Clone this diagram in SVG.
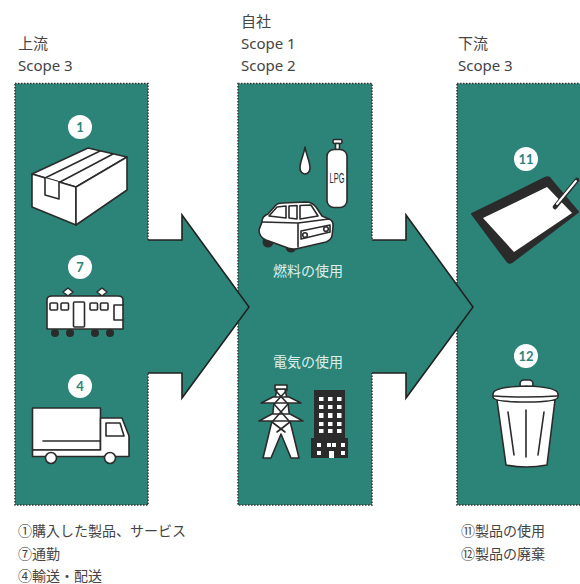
<svg xmlns="http://www.w3.org/2000/svg" width="580" height="584" viewBox="0 0 580 584">
  <style>
    .lbl { font-family: "Noto Sans", "Noto Sans CJK JP", sans-serif; font-size: 15px; fill: #444; }
    .note { font-family: "Noto Sans CJK JP", "Noto Sans", sans-serif; font-size: 14px; fill: #444; }
    .inner { font-family: "Noto Sans CJK JP", sans-serif; font-size: 14px; fill: #dcefec; text-anchor: middle; }
    .panel { fill: #2c8479; stroke: #333; stroke-width: 1.5; stroke-dasharray: 1.5 1.5; }
    .arrowfill { fill: #2c8479; }
    .arrowline { fill: none; stroke: #222; stroke-width: 1.6; stroke-linejoin: miter; }
    .badge { fill: #fff; }
    .badgetxt { font-family: "Lato", "Noto Sans", sans-serif; font-weight: bold; font-size: 13px; fill: #2c8479; text-anchor: middle; }
    .ico { fill: #fff; stroke: #2b2b2b; stroke-width: 1.6; stroke-linejoin: round; stroke-linecap: round; }
    .icoline { fill: none; stroke: #2b2b2b; stroke-width: 1.6; stroke-linecap: round; stroke-linejoin: round; }
    .dark { fill: #2b2b2b; }
  </style>

  <!-- headings -->
  <g id="heading-upstream">
    <text class="lbl" x="18" y="49">上流</text>
    <text class="lbl" x="18" y="71">Scope 3</text>
  </g>
  <g id="heading-own">
    <text class="lbl" x="241" y="27">自社</text>
    <text class="lbl" x="241" y="49">Scope 1</text>
    <text class="lbl" x="241" y="71">Scope 2</text>
  </g>
  <g id="heading-downstream">
    <text class="lbl" x="458" y="49">下流</text>
    <text class="lbl" x="458" y="71">Scope 3</text>
  </g>

  <!-- panels -->
  <g id="panel-upstream"><rect class="panel" x="15" y="83.5" width="133" height="421.5"/></g>
  <g id="panel-own"><rect class="panel" x="238" y="83.5" width="134" height="421.5"/></g>
  <g id="panel-downstream"><rect class="panel" x="457" y="83.5" width="130" height="421.5"/></g>

  <!-- flow arrows -->
  <g id="connectors">
    <polygon class="arrowfill" points="146,240 182,240 182,215 249,307 182,398 182,373 146,373"/>
    <polyline class="arrowline" points="148,240 182,240 182,215 249,307 182,398 182,373 148,373"/>
    <polygon class="arrowfill" points="370,240 406,240 406,215 473,307 406,398 406,373 370,373"/>
    <polyline class="arrowline" points="372,240 406,240 406,215 473,307 406,398 406,373 372,373"/>
  </g>

  <!-- 1: purchased goods -->
  <g id="item-1">
    <circle class="badge" cx="80" cy="127" r="12"/>
    <text class="badgetxt" x="80" y="131.5">1</text>
    <polygon class="ico" points="32,174 88,148 127,157 76,187"/>
    <polygon class="ico" points="32,174 76,187 76,225 32,207"/>
    <polygon class="ico" points="76,187 127,157 127,190 76,225"/>
    <path class="icoline" d="M45,178 L100,151 M60,182 L113,154"/>
    <path class="ico" d="M45,178 L45,195 L59,199 L59,182"/>
  </g>

  <!-- 7: commuting -->
  <g id="item-7">
    <circle class="badge" cx="80" cy="267" r="12"/>
    <text class="badgetxt" x="80" y="271.5">7</text>
    <path class="ico" d="M63,292 L68,288 L73,292 L68,296 Z M97,292 L102,288 L107,292 L102,296 Z"/>
    <circle class="dark" cx="55" cy="333" r="4"/>
    <circle class="dark" cx="70" cy="333" r="4"/>
    <circle class="dark" cx="95" cy="333" r="4"/>
    <circle class="dark" cx="110" cy="333" r="4"/>
    <path class="ico" d="M47,329 L47,300 Q47,296 52,296 L118,296 Q123,296 123,300 L123,329 Z"/>
    <rect class="ico" x="50" y="303" width="7.5" height="7" rx="1"/>
    <rect class="ico" x="61" y="303" width="7.5" height="7" rx="1"/>
    <rect class="ico" x="73.5" y="302" width="11" height="25" rx="1"/>
    <rect class="ico" x="90" y="303" width="7.5" height="7" rx="1"/>
    <rect class="ico" x="100.5" y="303" width="7.5" height="7" rx="1"/>
    <path class="icoline" d="M123,305 L114,305 L114,320 L123,320"/>
  </g>

  <!-- 4: transportation -->
  <g id="item-4">
    <circle class="badge" cx="80" cy="386" r="12"/>
    <text class="badgetxt" x="80" y="390.5">4</text>
    <rect class="ico" x="32.5" y="408" width="68" height="42"/>
    <path class="icoline" d="M43,441 L100,441"/>
    <path class="ico" d="M100.5,418 L122,418 L129,436 L129,456.5 L32.5,456.5 L32.5,450 L100.5,450 Z"/>
    <path class="ico" d="M106,423 L120,423 L124,436 L106,436 Z"/>
    <circle class="ico" cx="51" cy="458" r="5.5"/>
    <circle class="ico" cx="110" cy="458" r="5.5"/>
  </g>

  <!-- fuel use -->
  <g id="item-fuel">
    <path class="ico" d="M305,147 C306,155 310,161 310,168 A5,6 0 0 1 300,168 C300,161 304,155 305,147 Z"/>
    <rect class="ico" x="333" y="139.5" width="9" height="4" rx="1.5"/>
    <rect class="ico" x="335.5" y="143.5" width="4" height="6"/>
    <rect class="ico" x="327" y="149.5" width="20" height="58" rx="7"/>
    <text x="337" y="183" font-family="Liberation Sans Narrow, Liberation Sans, sans-serif" font-size="14" fill="#2b2b2b" text-anchor="middle" textLength="15" lengthAdjust="spacingAndGlyphs">LPG</text>
    <!-- car -->
    <circle class="dark" cx="268" cy="242" r="5.5"/>
    <circle class="dark" cx="291" cy="247" r="5.5"/>
    <path class="ico" d="M262,222 Q262,216 268,214 L276,205 Q278,203 283,203 L306,202 Q312,202 316,207 L322,216 L329,219 Q334,221 333,227 L332,236 Q331,240 326,242 L300,248 Q294,250 288,248 L266,240 Q259,237 259,230 Z"/>
    <path class="ico" d="M269,216 L277,207 L286,206 L286,218 Z"/>
    <path class="ico" d="M289,218 L289,206 L297,205.5 L297,219 Z"/>
    <path class="ico" d="M300,219 L300,205.5 L311,205 L318,216 Z"/>
    <path class="icoline" d="M262,222 L298,223 L329,219 M298,223 L298,247"/>
    <path class="ico" d="M301,231 L330,225 L330,232 L301,239 Z"/>
    <circle class="ico" cx="305" cy="235" r="2.3"/>
    <circle class="ico" cx="326" cy="229" r="2.3"/>
  </g>
  <text class="inner" x="308" y="276">燃料の使用</text>

  <!-- electricity use -->
  <g id="item-electricity">
    <path class="ico" d="M277,389 L285,389 L288,403 L290,421 L299,458 L291,458 L281,434 L271,458 L263,458 L272,421 L274,403 Z"/>
    <rect class="ico" x="275" y="385" width="12" height="4"/>
    <path class="ico" d="M261,403 L301,403 L289,397 L273,397 Z"/>
    <path class="ico" d="M259,421 L303,421 L290,414 L272,414 Z"/>
    <path class="icoline" d="M275,390 L287,403 M287,390 L275,403 M274,404 L289,421 M288,404 L273,421 M272,422 L285,432 M290,422 L277,432"/>
    <path class="dark" d="M314,390 L345,390 L345,438 L348,438 L348,458 L311,458 L311,438 L314,438 Z"/>
    <g fill="#fff">
      <rect x="319" y="397" width="4.5" height="4"/><rect x="328" y="397" width="4.5" height="4"/><rect x="337" y="397" width="4.5" height="4"/>
      <rect x="319" y="405" width="4.5" height="4"/><rect x="328" y="405" width="4.5" height="4"/><rect x="337" y="405" width="4.5" height="4"/>
      <rect x="319" y="413" width="4.5" height="5"/><rect x="328" y="413" width="4.5" height="5"/><rect x="337" y="413" width="4.5" height="5"/>
      <rect x="319" y="422" width="4.5" height="4"/><rect x="328" y="422" width="4.5" height="4"/><rect x="337" y="422" width="4.5" height="4"/>
      <rect x="319" y="429" width="4.5" height="4"/><rect x="328" y="429" width="4.5" height="4"/><rect x="337" y="429" width="4.5" height="4"/>
      <rect x="317" y="443" width="4" height="4"/><rect x="327" y="443" width="4" height="4"/><rect x="332" y="443" width="4" height="4"/><rect x="341" y="443" width="4" height="4"/>
      <rect x="317" y="451" width="4" height="4"/><rect x="329" y="451" width="5" height="7"/><rect x="341" y="451" width="4" height="4"/>
    </g>
  </g>
  <text class="inner" x="308" y="367">電気の使用</text>

  <!-- 11: use of sold products -->
  <g id="item-11">
    <circle class="badge" cx="526" cy="159" r="12"/>
    <text class="badgetxt" x="526" y="163.5">11</text>
    <path d="M472,214 L545,178 Q549,176 551,180 L578,212 L512,262 Q509,264 507,261 Z" fill="#2b2b2b" stroke="#2b2b2b" stroke-width="2" stroke-linejoin="round"/>
    <polygon points="483,218 547,187 572,213 514,252" fill="#fff"/>
    <path d="M577,180 L555,207" stroke="#2b2b2b" stroke-width="4.5" stroke-linecap="round"/>
    <path d="M576,181 L557,204" stroke="#fff" stroke-width="2" stroke-linecap="round"/>
  </g>

  <!-- 12: end-of-life treatment -->
  <g id="item-12">
    <circle class="badge" cx="526" cy="356" r="12"/>
    <text class="badgetxt" x="526" y="360.5">12</text>
    <path class="ico" d="M497,400 L555,400 L547,465 Q526,469 506,465 Z"/>
    <path class="icoline" d="M526,410 L526,457 M508,412 L514,455 M544,412 L538,455"/>
    <rect class="ico" x="520" y="380" width="13" height="8" rx="4"/>
    <path class="ico" d="M493,394 Q493,387 526,386 Q558,387 558,394 L558,397 Q558,402 526,402 Q493,402 493,397 Z"/>
    <path class="icoline" d="M494,396 Q526,398 557,396"/>
  </g>

  <!-- category notes -->
  <g id="notes-upstream">
    <text class="note" x="18" y="536">①購入した製品、サービス</text>
    <text class="note" x="18" y="559">⑦通勤</text>
    <text class="note" x="18" y="581">④輸送・配送</text>
  </g>
  <g id="notes-downstream">
    <text class="note" x="461" y="536">⑪製品の使用</text>
    <text class="note" x="461" y="559">⑫製品の廃棄</text>
  </g>
</svg>
